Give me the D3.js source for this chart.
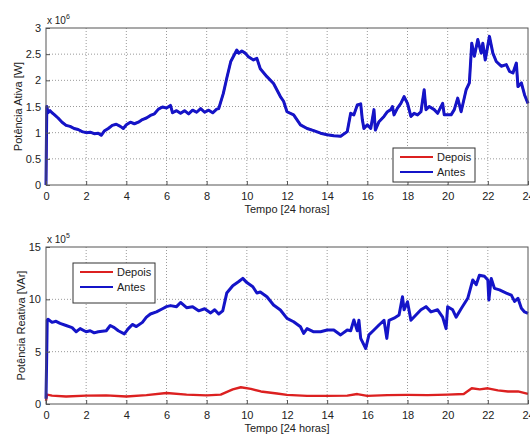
<!DOCTYPE html>
<html>
<head>
<meta charset="utf-8">
<script src="https://d3js.org/d3.v7.min.js"></script>
<style>
  body { margin: 0; background: #fff; }
  svg { display: block; }
</style>
</head>
<body>
<div id="chart"></div>
<script>
// tempo (horas) e potencia ativa (x 10^6 W)
const ativaTempo = [0, 0.02, 0.04, 0.1, 0.2, 0.3, 0.4, 0.6, 0.8, 1.0, 1.2, 1.4, 1.6, 1.8, 2.0, 2.2, 2.4, 2.6, 2.75, 2.9,
  3.1, 3.3, 3.5, 3.7, 3.85, 4.0, 4.2, 4.4, 4.6, 4.8, 5.0, 5.2, 5.4, 5.6, 5.8, 6.0, 6.2, 6.3, 6.5, 6.7,
  6.9, 7.1, 7.3, 7.5, 7.7, 7.9, 8.1, 8.3, 8.5, 8.6, 8.83, 9.0, 9.2, 9.5, 9.6, 9.75, 9.92, 10.08, 10.33, 10.5,
  10.67, 11.0, 11.33, 11.67, 11.83, 12.0, 12.33, 12.67, 13.0, 13.33, 13.67, 14.0, 14.33, 14.67, 15.0, 15.17, 15.33, 15.5, 15.67, 15.75,
  15.83, 16.0, 16.17, 16.33, 16.4, 16.58, 16.83, 17.0, 17.17, 17.25, 17.33, 17.5, 17.67, 17.83, 18.0, 18.17, 18.33, 18.5, 18.67, 18.83,
  18.92, 19.08, 19.33, 19.5, 19.75, 19.83, 20.17, 20.33, 20.5, 20.67, 20.92, 21.08, 21.2, 21.33, 21.5, 21.67, 21.75, 21.87, 22.08, 22.25,
  22.42, 22.67, 22.92, 23.08, 23.25, 23.42, 23.5, 23.67, 23.83, 24.0];
const ativaAntes = [0, 0.8, 1.5, 1.38, 1.42, 1.38, 1.35, 1.28, 1.2, 1.14, 1.12, 1.08, 1.06, 1.02, 1.0, 1.01, 0.98, 0.99, 0.95, 1.03,
  1.08, 1.14, 1.16, 1.12, 1.08, 1.15, 1.2, 1.17, 1.2, 1.25, 1.28, 1.33, 1.36, 1.45, 1.49, 1.47, 1.52, 1.38, 1.42, 1.37,
  1.42, 1.36, 1.43, 1.39, 1.46, 1.39, 1.43, 1.38, 1.45, 1.46, 1.75, 2.04, 2.36, 2.58, 2.52, 2.56, 2.52, 2.45, 2.39, 2.42,
  2.22, 2.07, 1.94, 1.69, 1.6, 1.4, 1.34, 1.15, 1.08, 1.04, 0.99, 0.96, 0.94, 0.93, 1.02, 1.37, 1.34, 1.53, 1.55, 1.25,
  1.08, 1.15, 1.08, 1.44, 1.05, 1.21, 1.31, 1.4, 1.44, 1.5, 1.34, 1.47, 1.56, 1.69, 1.56, 1.31, 1.37, 1.34, 1.4, 1.82,
  1.44, 1.5, 1.44, 1.37, 1.56, 1.34, 1.34, 1.44, 1.66, 1.4, 1.82, 1.95, 2.71, 2.46, 2.78, 2.52, 2.71, 2.39, 2.84, 2.52,
  2.36, 2.27, 2.3, 2.17, 2.14, 2.33, 1.88, 1.95, 1.72, 1.56];
// depois: a potencia ativa nao muda (curva vermelha fica escondida sob a azul)
const ativaDepois = ativaAntes;

// tempo (horas) e potencia reativa (x 10^5 VAr)
const reativaTempo = [0, 0.03, 0.06, 0.1, 0.3, 0.5, 0.7, 1.0, 1.3, 1.5, 1.7, 2.0, 2.2, 2.4, 2.6, 3.0, 3.2, 3.4, 3.6, 3.9,
  4.1, 4.3, 4.5, 4.8, 5.0, 5.2, 5.5, 5.8, 6.0, 6.2, 6.5, 6.7, 7.0, 7.3, 7.6, 7.9, 8.2, 8.4, 8.6, 8.8,
  9.0, 9.3, 9.6, 9.8, 10.0, 10.3, 10.5, 10.67, 11.0, 11.33, 11.67, 12.0, 12.33, 12.67, 12.83, 13.0, 13.33, 13.67, 14.0, 14.33,
  14.67, 15.0, 15.17, 15.33, 15.5, 15.58, 15.67, 15.92, 16.08, 16.33, 16.58, 16.83, 16.97, 17.08, 17.33, 17.58, 17.75, 17.83, 18.0, 18.17,
  18.42, 18.67, 18.92, 19.17, 19.5, 19.75, 19.92, 20.0, 20.25, 20.42, 20.67, 21.0, 21.25, 21.42, 21.58, 21.83, 22.0, 22.05, 22.17, 22.33,
  22.58, 22.92, 23.17, 23.33, 23.5, 23.67, 23.83, 24.0];
const reativaAntes = [0.5, 4, 8.0, 8.1, 7.8, 7.9, 7.7, 7.5, 7.3, 6.9, 7.2, 6.9, 7.0, 6.8, 6.9, 7.0, 7.5, 7.3, 7.0, 6.7,
  7.2, 7.6, 7.4, 7.8, 8.3, 8.6, 8.8, 9.1, 9.3, 9.4, 9.3, 9.7, 9.2, 9.3, 8.9, 9.1, 8.7, 9.0, 8.6, 8.9,
  10.6, 11.3, 11.7, 12.0, 11.6, 11.2, 10.6, 10.7, 10.25, 9.46, 8.98, 8.18, 7.86, 7.38, 6.75, 7.2, 6.9, 6.9, 7.07, 7.07,
  6.6, 7.07, 7.0, 8.02, 7.0, 8.0, 6.27, 5.3, 6.6, 7.07, 7.55, 8.0, 6.27, 8.0, 8.2, 8.5, 10.25, 9.0, 9.77, 8.0,
  8.5, 9.0, 9.3, 8.8, 9.0, 8.3, 7.2, 9.3, 9.0, 8.3, 9.1, 10.1, 11.85, 11.4, 12.3, 12.2, 11.85, 9.94, 12.0, 11.05,
  10.9, 10.6, 10.4, 9.8, 10.1, 9.15, 8.8, 8.66];

const depoisTempo = [0, 0.05, 0.3, 1, 2, 3, 4, 5, 6, 7, 8, 8.7, 9.3, 9.7, 10.2, 10.7, 11.5, 12, 13, 14,
  15, 15.5, 16, 17, 18, 19, 20, 20.8, 21.2, 21.6, 22, 22.5, 23, 23.5, 24];
const reativaDepois = [0.3, 0.9, 0.8, 0.72, 0.8, 0.82, 0.72, 0.85, 1.05, 0.9, 0.82, 0.9, 1.4, 1.6, 1.45, 1.2, 1.0, 0.87, 0.78, 0.78,
  0.8, 0.95, 0.78, 0.85, 0.87, 0.85, 0.9, 0.95, 1.5, 1.4, 1.5, 1.3, 1.2, 1.2, 0.96];

const xTicks = d3.range(0, 25, 2);
const ativaTicks = [0, 0.5, 1, 1.5, 2, 2.5, 3];
const reativaTicks = [0, 5, 10, 15];

const width = 530, height = 434;
const font = '"Liberation Sans", Arial, Helvetica, sans-serif';
const blue = "#1414c8", red = "#dc2020";

const svg = d3.select("#chart").append("svg")
    .attr("width", width)
    .attr("height", height)
    .attr("font-family", font);

function drawPanel({ top, bottom, left = 46, right = 528, yMax, yTicks, ylabel, expo, series, legend }) {
    const x = d3.scaleLinear().domain([0, 24]).range([left, right]);
    const y = d3.scaleLinear().domain([0, yMax]).range([bottom, top]);
    const g = svg.append("g");

    // grade pontilhada
    g.selectAll(".gx").data(xTicks.slice(1, -1)).enter().append("line")
        .attr("x1", d => x(d)).attr("x2", d => x(d))
        .attr("y1", top).attr("y2", bottom)
        .attr("stroke", "#9a9a9a").attr("stroke-dasharray", "1,2");
    g.selectAll(".gy").data(yTicks.slice(1, -1)).enter().append("line")
        .attr("x1", left).attr("x2", right)
        .attr("y1", d => y(d)).attr("y2", d => y(d))
        .attr("stroke", "#9a9a9a").attr("stroke-dasharray", "1,2");

    // curvas
    const line = d3.line().x(d => x(d[0])).y(d => y(d[1]));
    series.forEach(s => {
        g.append("path")
            .datum(s.t.map((t, i) => [t, s.v[i]]))
            .attr("d", line)
            .attr("fill", "none")
            .attr("stroke", s.color)
            .attr("stroke-width", s.width)
            .attr("stroke-linejoin", "round");
    });

    // caixa dos eixos
    g.append("rect")
        .attr("x", left).attr("y", top)
        .attr("width", right - left).attr("height", bottom - top)
        .attr("fill", "none").attr("stroke", "#555").attr("stroke-width", 1);

    // eixos (ticks para dentro)
    const xAxis = d3.axisBottom(x).tickValues(xTicks).tickSize(-4).tickPadding(7).tickFormat(d3.format("d"));
    const yAxis = d3.axisLeft(y).tickValues(yTicks).tickSize(-4).tickPadding(5).tickFormat(d => d);
    const gx = g.append("g").attr("transform", `translate(0,${bottom})`).call(xAxis);
    const gy = g.append("g").attr("transform", `translate(${left},0)`).call(yAxis);
    [gx, gy].forEach(a => {
        a.select(".domain").remove();
        a.selectAll("line").attr("stroke", "#555");
        a.selectAll("text").attr("font-family", font).attr("font-size", 11).attr("fill", "#222");
    });

    // rotulos
    g.append("text")
        .attr("x", x(12)).attr("y", bottom + 28)
        .attr("text-anchor", "middle").attr("font-size", 11).attr("fill", "#222")
        .text("Tempo [24 horas]");
    g.append("text")
        .attr("transform", `translate(${ylabel.x},${(top + bottom) / 2}) rotate(-90)`)
        .attr("text-anchor", "middle").attr("font-size", 11).attr("fill", "#222")
        .text(ylabel.text);

    // multiplicador
    const ex = g.append("text").attr("x", left + 1).attr("y", top - 4)
        .attr("font-size", 10).attr("fill", "#222");
    ex.append("tspan").text("x 10");
    ex.append("tspan").attr("font-size", 7).attr("dy", -5).text(expo);

    // legenda
    const lg = g.append("g");
    lg.append("rect")
        .attr("x", legend.x).attr("y", legend.y)
        .attr("width", legend.w).attr("height", legend.h)
        .attr("fill", "#fff").attr("stroke", "#333").attr("stroke-width", 1);
    legend.items.forEach((it, i) => {
        const ly = legend.y + legend.pad + i * legend.step;
        lg.append("line")
            .attr("x1", legend.x + 7).attr("x2", legend.x + 40)
            .attr("y1", ly).attr("y2", ly)
            .attr("stroke", it.color).attr("stroke-width", 2);
        lg.append("text")
            .attr("x", legend.x + 44).attr("y", ly + 4)
            .attr("font-size", 11).attr("fill", "#222")
            .text(it.label);
    });
}

drawPanel({
    top: 28, bottom: 185, yMax: 3, yTicks: ativaTicks,
    ylabel: { x: 22, text: "Potência Ativa [W]" }, expo: "6",
    series: [
        { t: ativaTempo, v: ativaDepois, color: red, width: 2 },
        { t: ativaTempo, v: ativaAntes, color: blue, width: 3 }
    ],
    legend: { x: 393, y: 148, w: 82, h: 34, pad: 9, step: 15,
        items: [{ label: "Depois", color: red }, { label: "Antes", color: blue }] }
});

drawPanel({
    top: 247, bottom: 404, yMax: 15, yTicks: reativaTicks,
    ylabel: { x: 25, text: "Potência Reativa [VAr]" }, expo: "5",
    series: [
        { t: depoisTempo, v: reativaDepois, color: red, width: 2.4 },
        { t: reativaTempo, v: reativaAntes, color: blue, width: 3 }
    ],
    legend: { x: 73, y: 263, w: 82, h: 40, pad: 9, step: 15,
        items: [{ label: "Depois", color: red }, { label: "Antes", color: blue }] }
});
</script>
</body>
</html>
